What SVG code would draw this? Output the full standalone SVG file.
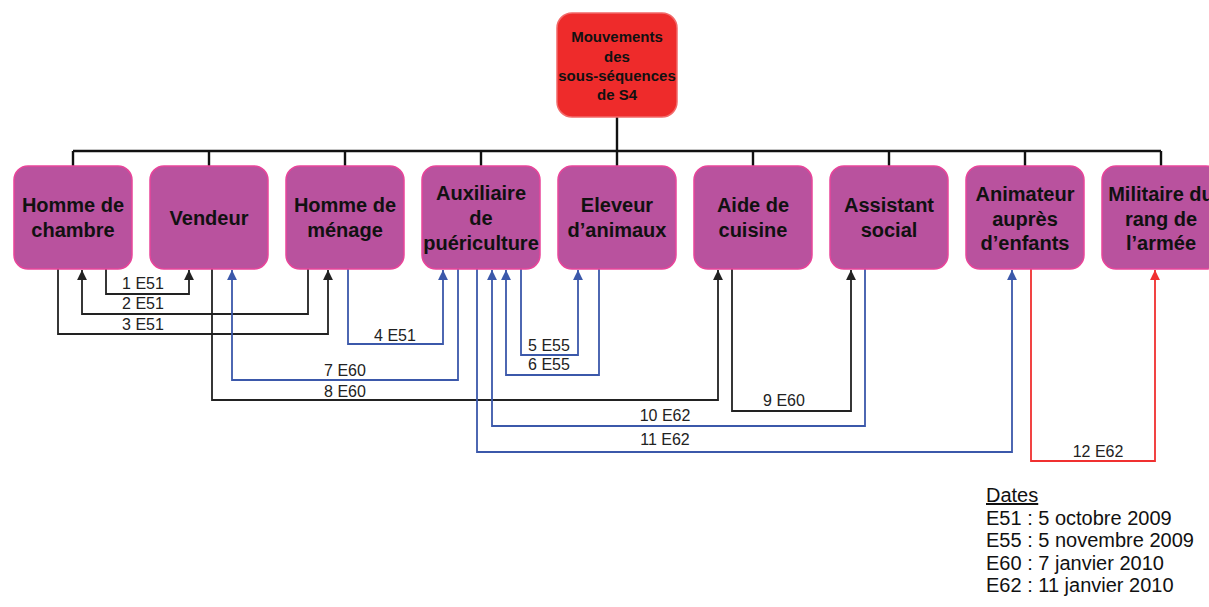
<svg xmlns="http://www.w3.org/2000/svg" width="1209" height="607" viewBox="0 0 1209 607">
<style>
.node rect{fill:#b9529e;stroke:#e8459a;stroke-width:1.5}
.node text{font-family:"Liberation Sans",Arial,sans-serif;font-size:20px;font-weight:bold;fill:#111;text-anchor:middle}
.root rect{fill:#ee2b2b;stroke:#f26a6a;stroke-width:1.5}
.root text{font-family:"Liberation Sans",Arial,sans-serif;font-size:15px;font-weight:bold;fill:#111;text-anchor:middle}
.tree{fill:none;stroke:#111;stroke-width:2.4}
.k{fill:none;stroke:#222;stroke-width:1.8}
.b{fill:none;stroke:#3b58aa;stroke-width:1.8}
.r{fill:none;stroke:#f03030;stroke-width:1.8}
.lbl{font-family:"Liberation Sans",Arial,sans-serif;font-size:16px;fill:#222;text-anchor:middle}
.leg{font-family:"Liberation Sans",Arial,sans-serif;font-size:20px;fill:#111}
</style>
<defs>
<marker id="ak" viewBox="0 0 10 10" refX="10" refY="5" markerWidth="5.5" markerHeight="5.5" orient="auto" markerUnits="strokeWidth"><path d="M0,0L10,5L0,10z" fill="#222"/></marker>
<marker id="ab" viewBox="0 0 10 10" refX="10" refY="5" markerWidth="5.5" markerHeight="5.5" orient="auto" markerUnits="strokeWidth"><path d="M0,0L10,5L0,10z" fill="#3b58aa"/></marker>
<marker id="ar" viewBox="0 0 10 10" refX="10" refY="5" markerWidth="5.5" markerHeight="5.5" orient="auto" markerUnits="strokeWidth"><path d="M0,0L10,5L0,10z" fill="#f03030"/></marker>
</defs>
<g id="connectors">
<path class="tree" d="M617,117V151M73,151H1161M73,151V166M209,151V166M345,151V166M481,151V166M617,151V166M753,151V166M889,151V166M1025,151V166M1161,151V166"/>
<path class="k" d="M106,269V294H189V270" marker-end="url(#ak)"/>
<path class="k" d="M308,269V314H82V270" marker-end="url(#ak)"/>
<path class="k" d="M58,269V334H328V270" marker-end="url(#ak)"/>
<path class="b" d="M348,269V344H443V270" marker-end="url(#ab)"/>
<path class="b" d="M521,269V355H578V270" marker-end="url(#ab)"/>
<path class="b" d="M599,269V375H506V270" marker-end="url(#ab)"/>
<path class="b" d="M458,269V380H232V270" marker-end="url(#ab)"/>
<path class="k" d="M212,269V400H718V270" marker-end="url(#ak)"/>
<path class="k" d="M732,269V411H851V270" marker-end="url(#ak)"/>
<path class="b" d="M865,269V426H492V270" marker-end="url(#ab)"/>
<path class="b" d="M477,269V452H1012V270" marker-end="url(#ab)"/>
<path class="r" d="M1031,269V461H1155V270" marker-end="url(#ar)"/>
<text class="lbl" x="143" y="289">1 E51</text>
<text class="lbl" x="143" y="309">2 E51</text>
<text class="lbl" x="143" y="330">3 E51</text>
<text class="lbl" x="395" y="341">4 E51</text>
<text class="lbl" x="549" y="351">5 E55</text>
<text class="lbl" x="549" y="370">6 E55</text>
<text class="lbl" x="345" y="376">7 E60</text>
<text class="lbl" x="345" y="397">8 E60</text>
<text class="lbl" x="784" y="406">9 E60</text>
<text class="lbl" x="665" y="421">10 E62</text>
<text class="lbl" x="665" y="445">11 E62</text>
<text class="lbl" x="1098" y="457">12 E62</text>
</g>
<g id="root" class="root">
<rect x="557" y="13" width="120" height="104" rx="15"/>
<text x="617" y="42">Mouvements</text>
<text x="617" y="62">des</text>
<text x="617" y="81">sous-séquences</text>
<text x="617" y="100">de S4</text>
</g>
<g id="n1" class="node"><rect x="14" y="166" width="118" height="103" rx="14"/><text x="73" y="212">Homme de</text><text x="73" y="237">chambre</text></g>
<g id="n2" class="node"><rect x="150" y="166" width="118" height="103" rx="14"/><text x="209" y="225">Vendeur</text></g>
<g id="n3" class="node"><rect x="286" y="166" width="118" height="103" rx="14"/><text x="345" y="212">Homme de</text><text x="345" y="237">ménage</text></g>
<g id="n4" class="node"><rect x="422" y="166" width="118" height="103" rx="14"/><text x="481" y="200">Auxiliaire</text><text x="481" y="225">de</text><text x="481" y="250">puériculture</text></g>
<g id="n5" class="node"><rect x="558" y="166" width="118" height="103" rx="14"/><text x="617" y="212">Eleveur</text><text x="617" y="237">d’animaux</text></g>
<g id="n6" class="node"><rect x="694" y="166" width="118" height="103" rx="14"/><text x="753" y="212">Aide de</text><text x="753" y="237">cuisine</text></g>
<g id="n7" class="node"><rect x="830" y="166" width="118" height="103" rx="14"/><text x="889" y="212">Assistant</text><text x="889" y="237">social</text></g>
<g id="n8" class="node"><rect x="966" y="166" width="118" height="103" rx="14"/><text x="1025" y="201">Animateur</text><text x="1025" y="226">auprès</text><text x="1025" y="250">d’enfants</text></g>
<g id="n9" class="node"><rect x="1102" y="166" width="118" height="103" rx="14"/><text x="1161" y="201">Militaire du</text><text x="1161" y="226">rang de</text><text x="1161" y="250">l’armée</text></g>
<g id="legend" class="leg">
<text x="986" y="502" text-decoration="underline">Dates</text>
<text x="986" y="525">E51 : 5 octobre 2009</text>
<text x="986" y="547">E55 : 5 novembre 2009</text>
<text x="986" y="570">E60 : 7 janvier 2010</text>
<text x="986" y="592">E62 : 11 janvier 2010</text>
</g>
</svg>
